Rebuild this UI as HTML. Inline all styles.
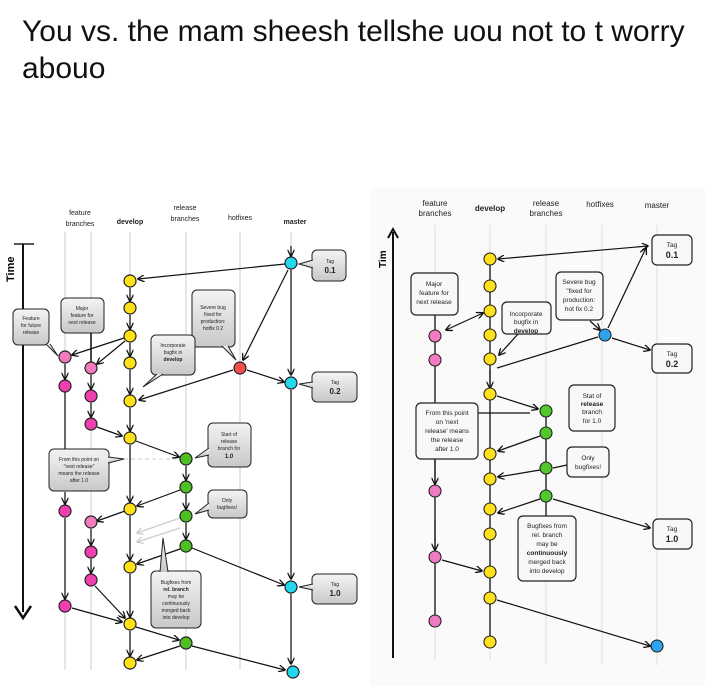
<!DOCTYPE html>
<html><head><meta charset="utf-8"><style>
html,body{margin:0;padding:0;background:#fff;width:705px;height:696px;overflow:hidden}
.t{position:absolute;left:22px;top:13px;font-family:"Liberation Sans",sans-serif;font-size:30px;line-height:37px;color:#111;width:690px;white-space:nowrap}
svg{position:absolute;left:0;top:0}
text{font-family:"Liberation Sans",sans-serif}
</style></head><body>
<div class="t">You vs. the mam sheesh tellshe uou not to t worry<br>abouo</div>
<svg width="705" height="696" viewBox="0 0 705 696">
<defs>
<marker id="a" viewBox="0 0 10 10" refX="9" refY="5" markerWidth="6" markerHeight="6" orient="auto-start-reverse"><path d="M0,0 L10,5 L0,10" fill="none" stroke="#111" stroke-width="1.8"/></marker>
<marker id="g" viewBox="0 0 10 10" refX="9" refY="5" markerWidth="6" markerHeight="6" orient="auto"><path d="M0,0 L10,5 L0,10" fill="none" stroke="#ccc" stroke-width="1.8"/></marker>
<linearGradient id="bx" x1="0" y1="0" x2="0" y2="1"><stop offset="0" stop-color="#f4f4f4"/><stop offset="1" stop-color="#c8c8c8"/></linearGradient>
</defs>
<rect x="370" y="188" width="335" height="498" fill="#fbfafa"/>

<g stroke="#ddd" stroke-width="1.5">
<line x1="65" y1="232" x2="65" y2="670"/><line x1="91" y1="232" x2="91" y2="670"/>
<line x1="130" y1="232" x2="130" y2="670"/><line x1="186" y1="232" x2="186" y2="670"/>
<line x1="240" y1="232" x2="240" y2="670"/><line x1="291" y1="232" x2="291" y2="670"/>
</g>
<g font-size="7" fill="#222" text-anchor="middle">
<text x="80" y="215">feature</text><text x="80" y="226">branches</text>
<text x="130" y="224" font-weight="bold">develop</text>
<text x="185" y="210">release</text><text x="185" y="221">branches</text>
<text x="240" y="220">hotfixes</text>
<text x="295" y="224" font-weight="bold">master</text>
</g>
<text x="0" y="0" font-size="11" font-weight="bold" transform="translate(14,282) rotate(-90)">Time</text>
<line x1="14" y1="244" x2="34" y2="244" stroke="#222" stroke-width="1.5"/>
<line x1="23" y1="244" x2="23" y2="612" stroke="#111" stroke-width="2"/>
<path d="M15,606 L23,618 L31,606" fill="none" stroke="#111" stroke-width="2.5"/>

<g stroke="#111" stroke-width="1.2" fill="none" marker-end="url(#a)">
<line x1="285" y1="264" x2="138" y2="279"/>
<line x1="288" y1="270" x2="243" y2="360"/>
<line x1="291" y1="246" x2="291" y2="256"/>
<line x1="291" y1="270" x2="291" y2="375"/>
<line x1="291" y1="390" x2="291" y2="579"/>
<line x1="291" y1="594" x2="291" y2="664"/>
<line x1="247" y1="370" x2="284" y2="382"/>
<line x1="233" y1="370" x2="139" y2="400"/>
<line x1="130" y1="288" x2="130" y2="301"/><line x1="130" y1="315" x2="130" y2="329"/>
<line x1="130" y1="343" x2="130" y2="356"/><line x1="130" y1="370" x2="130" y2="394"/>
<line x1="130" y1="408" x2="130" y2="431"/><line x1="130" y1="445" x2="130" y2="502"/>
<line x1="130" y1="516" x2="130" y2="560"/><line x1="130" y1="574" x2="130" y2="617"/>
<line x1="130" y1="631" x2="130" y2="656"/>
<line x1="124" y1="338" x2="72" y2="355"/><line x1="125" y1="341" x2="97" y2="364"/>
<line x1="65" y1="364" x2="65" y2="379"/>
<line x1="65" y1="492" x2="65" y2="504"/><line x1="65" y1="518" x2="65" y2="599"/>
<line x1="91" y1="403" x2="91" y2="417"/><line x1="91" y1="375" x2="91" y2="389"/>
<line x1="97" y1="427" x2="122" y2="436"/>
<line x1="91" y1="529" x2="91" y2="545"/><line x1="91" y1="559" x2="91" y2="573"/>
<line x1="95" y1="586" x2="125" y2="618"/>
<line x1="72" y1="608" x2="122" y2="622"/>
<line x1="136" y1="441" x2="179" y2="457"/>
<line x1="186" y1="466" x2="186" y2="480"/><line x1="186" y1="494" x2="186" y2="509"/>
<line x1="186" y1="523" x2="186" y2="539"/>
<line x1="180" y1="490" x2="137" y2="506"/>
<line x1="180" y1="549" x2="137" y2="564"/>
<line x1="192" y1="548" x2="284" y2="585"/>
<line x1="136" y1="627" x2="179" y2="640"/>
<line x1="180" y1="646" x2="137" y2="660"/>
<line x1="192" y1="646" x2="285" y2="670"/>
<line x1="125" y1="511" x2="97" y2="521"/>
</g>
<g stroke="#ccc" stroke-width="1.2" marker-end="url(#g)"><line x1="180" y1="518" x2="137" y2="533"/><line x1="180" y1="528" x2="137" y2="542"/></g>
<line x1="65" y1="392" x2="65" y2="449" stroke="#111" stroke-width="1.2"/>
<line x1="91" y1="333" x2="91" y2="362" stroke="#111" stroke-width="1.5"/>
<line x1="110" y1="459" x2="180" y2="459" stroke="#ccc" stroke-dasharray="4,3"/>

<g stroke="#222" stroke-width="1.2">
<g fill="#ffe11a"><circle cx="130" cy="281" r="6"/><circle cx="130" cy="308" r="6"/><circle cx="130" cy="336" r="6"/><circle cx="130" cy="363" r="6"/><circle cx="130" cy="401" r="6"/><circle cx="130" cy="438" r="6"/><circle cx="130" cy="509" r="6"/><circle cx="130" cy="567" r="6"/><circle cx="130" cy="624" r="6"/><circle cx="130" cy="663" r="6"/></g>
<g fill="#f040b0"><circle cx="65" cy="386" r="6"/><circle cx="65" cy="511" r="6"/><circle cx="65" cy="606" r="6"/><circle cx="91" cy="396" r="6"/><circle cx="91" cy="424" r="6"/><circle cx="91" cy="552" r="6"/><circle cx="91" cy="580" r="6"/></g>
<g fill="#f47ac0"><circle cx="65" cy="357" r="6"/><circle cx="91" cy="368" r="6"/><circle cx="91" cy="522" r="6"/></g>
<g fill="#4cbf22"><circle cx="186" cy="459" r="6"/><circle cx="186" cy="487" r="6"/><circle cx="186" cy="516" r="6"/><circle cx="186" cy="546" r="6"/><circle cx="186" cy="643" r="6"/></g>
<circle cx="240" cy="368" r="6" fill="#f05050"/>
<g fill="#22d8ee"><circle cx="291" cy="263" r="6"/><circle cx="291" cy="383" r="6"/><circle cx="291" cy="587" r="6"/><circle cx="293" cy="672" r="6"/></g>
</g>

<g stroke="#222" stroke-width="1" fill="url(#bx)">
<rect x="312" y="250" width="34" height="31" rx="5"/><path d="M313,260 L299,264 L313,268"/>
<rect x="312" y="372" width="45" height="30" rx="5"/><path d="M313,382 L299,384 L313,388"/>
<rect x="312" y="574" width="45" height="30" rx="5"/><path d="M313,584 L299,587 L313,590"/>
<rect x="13" y="309" width="36" height="36" rx="5"/><path d="M46,344 L58,356 L50,344"/>
<rect x="61" y="298" width="43" height="35" rx="5"/>
<rect x="192" y="290" width="43" height="57" rx="5"/><path d="M228,346 L236,360 L222,346"/>
<rect x="151" y="335" width="44" height="40" rx="5"/><path d="M157,374 L143,387 L163,374"/>
<rect x="208" y="423" width="43" height="44" rx="5"/><path d="M209,448 L195,458 L209,455"/>
<rect x="49" y="449" width="60" height="42" rx="5"/><path d="M108,457 L124,459 L108,463"/>
<rect x="208" y="490" width="39" height="28" rx="5"/><path d="M209,503 L195,514 L209,510"/>
<rect x="151" y="571" width="50" height="57" rx="5"/><path d="M160,572 L163,538 L168,572"/>
</g>
<g font-size="5" fill="#222" text-anchor="middle">
<text x="330" y="263">Tag</text><text x="330" y="273" font-size="8" font-weight="bold">0.1</text>
<text x="335" y="384">Tag</text><text x="335" y="394" font-size="8" font-weight="bold">0.2</text>
<text x="335" y="586">Tag</text><text x="335" y="596" font-size="8" font-weight="bold">1.0</text>
<text x="31" y="320">Feature</text><text x="31" y="327">for future</text><text x="31" y="334">release</text>
<text x="82" y="310">Major</text><text x="82" y="317">feature for</text><text x="82" y="324">next release</text>
<text x="213" y="309">Severe bug</text><text x="213" y="316">fixed for</text><text x="213" y="323">production:</text><text x="213" y="330">hotfix 0.2</text>
<text x="173" y="347">Incorporate</text><text x="173" y="354">bugfix in</text><text x="173" y="361" font-weight="bold">develop</text>
<text x="229" y="436">Start of</text><text x="229" y="443">release</text><text x="229" y="450">branch for</text><text x="229" y="458" font-size="6" font-weight="bold">1.0</text>
<text x="79" y="461">From this point on</text><text x="79" y="468">"next release"</text><text x="79" y="475">means the release</text><text x="79" y="482">after 1.0</text>
<text x="227" y="502">Only</text><text x="227" y="509">bugfixes!</text>
<text x="176" y="584">Bugfixes from</text><text x="176" y="591" font-weight="bold">rel. branch</text><text x="176" y="598">may be</text><text x="176" y="605">continuously</text><text x="176" y="612">merged back</text><text x="176" y="619">into develop</text>
</g>

<g stroke="#e2e2e2" stroke-width="1.2">
<line x1="435" y1="225" x2="435" y2="660"/><line x1="490" y1="225" x2="490" y2="660"/>
<line x1="546" y1="225" x2="546" y2="665"/><line x1="602" y1="225" x2="602" y2="665"/>
<line x1="657" y1="225" x2="657" y2="665"/>
</g>
<g font-size="8" fill="#222" text-anchor="middle">
<text x="435" y="206">feature</text><text x="435" y="216">branches</text>
<text x="490" y="211" font-weight="bold">develop</text>
<text x="546" y="206">release</text><text x="546" y="216">branches</text>
<text x="600" y="207">hotfixes</text>
<text x="657" y="208">master</text>
</g>
<text font-size="10" font-weight="bold" transform="translate(386,268) rotate(-90)">Tim</text>
<line x1="393" y1="232" x2="393" y2="658" stroke="#111" stroke-width="2"/>
<path d="M388,238 L393,229 L398,238" fill="none" stroke="#111" stroke-width="2"/>
<line x1="490" y1="259" x2="490" y2="642" stroke="#111" stroke-width="1.3"/>
<line x1="435" y1="315" x2="435" y2="621" stroke="#111" stroke-width="1.3"/>
<line x1="546" y1="411" x2="546" y2="518" stroke="#111" stroke-width="1.3"/>
<g stroke="#111" stroke-width="1.2" fill="none">
<line x1="498" y1="259" x2="648" y2="246" marker-start="url(#a)" marker-end="url(#a)"/>
<line x1="608" y1="328" x2="646" y2="248" marker-end="url(#a)"/>
<line x1="612" y1="338" x2="650" y2="350" marker-end="url(#a)"/>
<line x1="598" y1="337" x2="497" y2="368"/>
<line x1="590" y1="321" x2="600" y2="330" marker-end="url(#a)"/>
<line x1="483" y1="313" x2="446" y2="330" marker-start="url(#a)" marker-end="url(#a)"/>
<line x1="518" y1="334" x2="499" y2="355" marker-end="url(#a)"/>
<line x1="490" y1="370" x2="490" y2="388" marker-end="url(#a)"/>
<line x1="497" y1="396" x2="538" y2="409" marker-end="url(#a)"/>
<line x1="478" y1="413" x2="530" y2="413"/>
<line x1="540" y1="436" x2="498" y2="451" marker-end="url(#a)"/>
<line x1="540" y1="470" x2="498" y2="477" marker-end="url(#a)"/>
<line x1="567" y1="465" x2="553" y2="468"/>
<line x1="540" y1="499" x2="498" y2="513" marker-end="url(#a)"/>
<line x1="553" y1="499" x2="650" y2="528" marker-end="url(#a)"/>
<line x1="435" y1="460" x2="435" y2="484" marker-end="url(#a)"/>
<line x1="435" y1="520" x2="435" y2="550" marker-end="url(#a)"/>
<line x1="442" y1="560" x2="482" y2="571" marker-end="url(#a)"/>
<line x1="497" y1="600" x2="650" y2="646" marker-end="url(#a)"/>
</g>
<g stroke="#222" stroke-width="1.1">
<g fill="#ffe11a"><circle cx="490" cy="259" r="6"/><circle cx="490" cy="286" r="6"/><circle cx="490" cy="311" r="6"/><circle cx="490" cy="335" r="6"/><circle cx="490" cy="359" r="6"/><circle cx="490" cy="394" r="6"/><circle cx="490" cy="454" r="6"/><circle cx="490" cy="479" r="6"/><circle cx="490" cy="509" r="6"/><circle cx="490" cy="534" r="6"/><circle cx="490" cy="572" r="6"/><circle cx="490" cy="598" r="6"/><circle cx="490" cy="642" r="6"/></g>
<g fill="#f07ac4"><circle cx="435" cy="336" r="6"/><circle cx="435" cy="360" r="6"/><circle cx="435" cy="491" r="6"/><circle cx="435" cy="557" r="6"/><circle cx="435" cy="621" r="6"/></g>
<g fill="#52c82c"><circle cx="546" cy="411" r="6"/><circle cx="546" cy="433" r="6"/><circle cx="546" cy="468" r="6"/><circle cx="546" cy="496" r="6"/></g>
<circle cx="605" cy="335" r="6" fill="#2ea4ee"/>
<circle cx="657" cy="646" r="6" fill="#2ea4ee"/>
</g>
<g stroke="#222" stroke-width="1.2" fill="#f8f8f8">
<rect x="652" y="235" width="40" height="30" rx="5"/>
<rect x="652" y="344" width="40" height="29" rx="5"/>
<rect x="653" y="519" width="39" height="30" rx="5"/>
<rect x="411" y="273" width="47" height="42" rx="5"/>
<rect x="502" y="302" width="49" height="32" rx="5"/>
<rect x="556" y="272" width="47" height="48" rx="5"/>
<rect x="569" y="385" width="46" height="46" rx="5"/>
<rect x="416" y="403" width="62" height="56" rx="5"/>
<rect x="567" y="447" width="42" height="30" rx="5"/>
<rect x="518" y="516" width="58" height="65" rx="5"/>
</g>
<g font-size="6.5" fill="#222" text-anchor="middle">
<text x="672" y="247">Tag</text><text x="672" y="258" font-size="9" font-weight="bold">0.1</text>
<text x="672" y="356">Tag</text><text x="672" y="367" font-size="9" font-weight="bold">0.2</text>
<text x="672" y="531">Tag</text><text x="672" y="542" font-size="9" font-weight="bold">1.0</text>
<text x="434" y="286">Major</text><text x="434" y="295">feature for</text><text x="434" y="304">next release</text>
<text x="526" y="316">Incorporate</text><text x="526" y="324">bugfix in</text><text x="526" y="333" font-weight="bold">develop</text>
<text x="579" y="284">Severe bug</text><text x="579" y="293">"fixed for</text><text x="579" y="302">production:</text><text x="579" y="311">hot fix 0.2</text>
<text x="592" y="398">Stat of</text><text x="592" y="406" font-weight="bold">release</text><text x="592" y="414">branch</text><text x="592" y="423">for 1.0</text>
<text x="447" y="415">From this point</text><text x="447" y="424">on 'next</text><text x="447" y="433">release' means</text><text x="447" y="442">the release</text><text x="447" y="451">after 1.0</text>
<text x="588" y="460">Only</text><text x="588" y="469">bugfixes!</text>
<text x="547" y="528">Bugfixes from</text><text x="547" y="537">rel. branch</text><text x="547" y="546">may be</text><text x="547" y="555" font-weight="bold">continuously</text><text x="547" y="564">merged back</text><text x="547" y="573">into develop</text>
</g>
</svg>
</body></html>
